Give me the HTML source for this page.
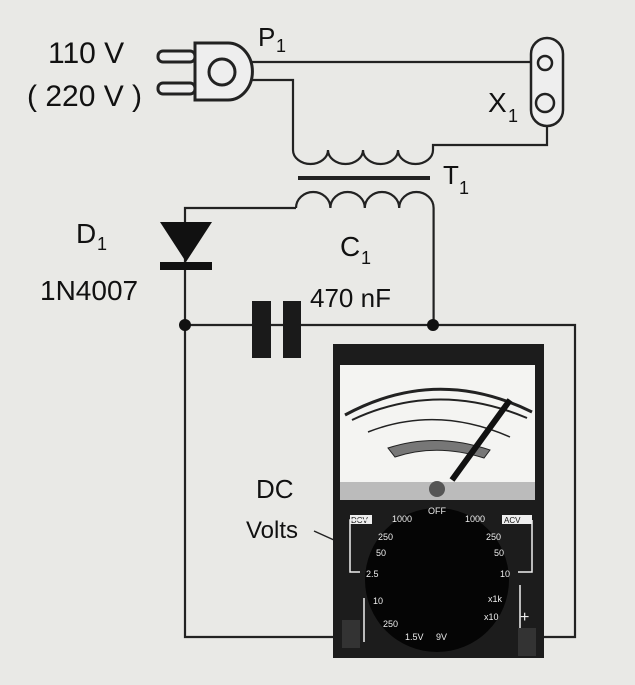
<!DOCTYPE html>
<html><head><style>
html,body{margin:0;padding:0;background:#e9e9e6;}
svg{display:block}
text{font-family:"Liberation Sans",sans-serif}
</style></head><body>
<svg width="635" height="685" viewBox="0 0 635 685" xmlns="http://www.w3.org/2000/svg">
<rect width="635" height="685" fill="#e9e9e6"/>
<g stroke="#222" stroke-width="2.2" fill="none">
<path d="M249 62 H540"/>
<path d="M249 80 H293 V150"/>
<path d="M293 150 a17.5 14 0 0 0 35 0 a17.5 14 0 0 0 35 0 a17.5 14 0 0 0 35 0 a17.5 14 0 0 0 35 0"/>
<path d="M433 150 V145 H547 V122"/>
<path d="M296 208 a17.2 16 0 0 1 34.4 0 a17.2 16 0 0 1 34.4 0 a17.2 16 0 0 1 34.4 0 a17.2 16 0 0 1 34.4 0 V325"/>
<path d="M296 208 H185 V637 H345"/>
<path d="M185 325 H575 V637 H530"/>
</g>
<rect x="298" y="176" width="132" height="4" fill="#222"/>
<g stroke="#222" stroke-width="3" fill="#eee">
<path d="M195 43 H228 A24 28 0 0 1 228 100 H195 Z"/>
<rect x="158" y="51" width="37" height="11" rx="5"/>
<rect x="158" y="83" width="37" height="11" rx="5"/>
<circle cx="222" cy="72" r="13"/>
</g>
<g stroke="#222" stroke-width="2.5" fill="#eee">
<rect x="531" y="38" width="32" height="88" rx="16"/>
<circle cx="545" cy="63" r="7"/>
<circle cx="545" cy="103" r="9"/>
</g>
<path d="M160 222 H212 L186 262 Z" fill="#111"/>
<rect x="160" y="262" width="52" height="8" fill="#111"/>
<circle cx="185" cy="325" r="6" fill="#111"/>
<circle cx="433" cy="325" r="6" fill="#111"/>
<rect x="252" y="301" width="19" height="57" fill="#1a1a1a"/>
<rect x="283" y="301" width="18" height="57" fill="#1a1a1a"/>
<g fill="#111" style="fill:#111">
<text x="48" y="63" font-size="30">110 V</text>
<text x="27" y="106" font-size="30">( 220 V )</text>
<text x="258" y="46" font-size="26">P</text><text x="276" y="52" font-size="18">1</text>
<text x="488" y="112" font-size="28">X</text><text x="508" y="122" font-size="18">1</text>
<text x="443" y="184" font-size="26">T</text><text x="459" y="194" font-size="18">1</text>
<text x="76" y="243" font-size="28">D</text><text x="97" y="250" font-size="18">1</text>
<text x="40" y="300" font-size="28">1N4007</text>
<text x="340" y="256" font-size="28">C</text><text x="361" y="264" font-size="18">1</text>
<text x="310" y="307" font-size="26">470 nF</text>
<text x="256" y="498" font-size="26">DC</text>
<text x="246" y="538" font-size="24">Volts</text>
</g>
<path d="M314 531 L345 545" stroke="#222" stroke-width="1.5"/>
<!-- meter -->
<rect x="333" y="344" width="211" height="314" fill="#1c1c1c"/>
<rect x="340" y="365" width="195" height="135" fill="#f4f4f2"/>
<rect x="340" y="482" width="195" height="18" fill="#bbb"/>
<g stroke="#222" fill="none">
<path d="M345 415 Q437 365 532 412" stroke-width="3"/>
<path d="M352 420 Q437 380 527 418" stroke-width="2"/>
<path d="M368 432 Q437 405 510 437" stroke-width="1.5"/>
</g>
<path d="M388 448 Q437 432 490 450 L484 458 Q437 443 395 457 Z" fill="#777" stroke="#222"/>
<path d="M452 480 L510 400" stroke="#111" stroke-width="6"/>
<circle cx="437" cy="489" r="8" fill="#555"/>
<circle cx="437" cy="580" r="72" fill="#050505"/>
<g font-size="9" style="fill:#eee">
<text x="392" y="522">1000</text><text x="428" y="514">OFF</text>
<text x="465" y="522">1000</text>
<text x="378" y="540">250</text><text x="376" y="556">50</text><text x="366" y="577">2.5</text>
<text x="486" y="540">250</text><text x="494" y="556">50</text><text x="500" y="577">10</text>
<text x="373" y="604">10</text><text x="383" y="627">250</text>
<text x="488" y="602">x1k</text><text x="484" y="620">x10</text>
<text x="405" y="640">1.5V</text><text x="436" y="640">9V</text>
<text x="346" y="630" font-size="16">−</text><text x="520" y="622" font-size="16">+</text>
</g>
<rect x="350" y="515" width="22" height="9" fill="#eee"/>
<text x="351" y="523" font-size="8" style="fill:#111">DCV</text>
<rect x="502" y="515" width="30" height="9" fill="#eee"/>
<text x="504" y="523" font-size="8" style="fill:#111">ACV</text>
<g stroke="#eee" stroke-width="1.5" fill="none">
<path d="M372 520 H350 V572 H360"/>
<path d="M532 520 H532 V572 H518"/>
<path d="M364 598 V642"/><path d="M520 585 V640"/>
</g>
<rect x="342" y="620" width="18" height="28" fill="#333"/>
<rect x="518" y="628" width="18" height="28" fill="#333"/>
</svg>
</body></html>
